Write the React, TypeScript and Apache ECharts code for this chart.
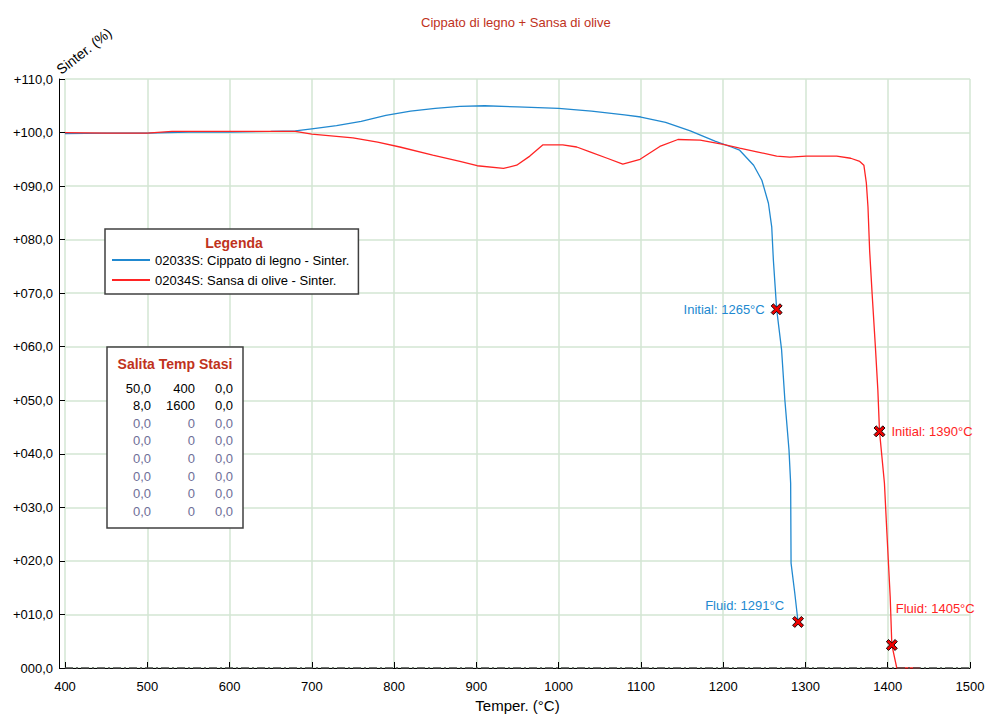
import { useEffect, useRef } from 'react';
import * as echarts from 'echarts';

// ---- data ----
const chartTitle = 'Cippato di legno + Sansa di olive';
const xAxisName = 'Temper. (°C)';
const yAxisName = 'Sinter. (%)';
const legendTitle = 'Legenda';
const seriesNames = ['02033S: Cippato di legno - Sinter.', '02034S: Sansa di olive - Sinter.'];

const cippatoTemp = [400, 450, 500, 550, 600, 650, 680, 700, 730, 760, 790, 820, 850, 880, 910, 950, 1000, 1040, 1080, 1100, 1130, 1160, 1190, 1210, 1220, 1237, 1247, 1255, 1259, 1261, 1265, 1271, 1275, 1280, 1282, 1282.5, 1287, 1291];
const cippatoSinter = [99.8, 99.9, 99.9, 100.1, 100.1, 100.2, 100.3, 100.7, 101.3, 102.1, 103.2, 104.0, 104.5, 104.9, 105.0, 104.8, 104.5, 104.0, 103.3, 102.9, 101.9, 100.3, 98.4, 97.3, 96.7, 93.9, 91.1, 86.8, 82.4, 76.2, 67.0, 59.4, 50.0, 40.7, 34.5, 19.6, 14.0, 8.6];

const sansaTemp = [400, 450, 500, 530, 600, 680, 700, 750, 780, 807, 847, 880, 901, 933, 949, 965, 981, 1005, 1022, 1038, 1059, 1078, 1099, 1123, 1145, 1172, 1200, 1220, 1241, 1265, 1281, 1301, 1338, 1355, 1366, 1371, 1374, 1376, 1378, 1381, 1385, 1388, 1390, 1396, 1399, 1403, 1405, 1411, 1439];
const sansaSinter = [100.0, 99.9, 99.9, 100.2, 100.2, 100.2, 99.7, 99.0, 98.2, 97.3, 95.8, 94.6, 93.8, 93.3, 93.9, 95.6, 97.7, 97.7, 97.3, 96.4, 95.2, 94.1, 95.0, 97.4, 98.7, 98.6, 97.8, 97.1, 96.4, 95.6, 95.4, 95.6, 95.6, 95.2, 94.6, 93.9, 90.6, 86.1, 78.0, 70.0, 60.0, 51.9, 44.2, 34.5, 25.2, 13.3, 4.3, 0.0, 0.0];

const pointKinds = ['Initial', 'Fluid'];
const cippatoPointTemp = [1265, 1291];
const cippatoPointSinter = [67.0, 8.6];
const sansaPointTemp = [1390, 1405];
const sansaPointSinter = [44.2, 4.3];

const tableHeader = 'Salita Temp Stasi';
const tableSalita = ['50,0', '8,0', '0,0', '0,0', '0,0', '0,0', '0,0', '0,0'];
const tableTemp = ['400', '1600', '0', '0', '0', '0', '0', '0'];
const tableStasi = ['0,0', '0,0', '0,0', '0,0', '0,0', '0,0', '0,0', '0,0'];
const tableActiveRows = 2;

// ---- styling ----
const FONT = 'Arial, "Liberation Sans", sans-serif';
const BLUE = '#2189d0';
const RED = '#ff2424';
const TITLE_RED = '#c0321c';
const GRID_GREEN = '#d3e6d3';
const INACTIVE = '#6e6e98';
const CROSS = 'path://M0,2 L2,0 L5,3 L8,0 L10,2 L7,5 L10,8 L8,10 L5,7 L2,10 L0,8 L3,5 Z';

const zip = (xs: number[], ys: number[]) => xs.map((x, i) => [x, ys[i]]);

const yLabel = (v: number) => (v === 0 ? '000,0' : '+' + String(v).padStart(3, '0') + ',0');

type Placement = { position: string; offset: number[] };

function pointSeries(temps: number[], values: number[], color: string, placements: Placement[]) {
  return {
    type: 'scatter',
    symbol: CROSS,
    symbolSize: 11,
    z: 5,
    itemStyle: { color: '#ee0000', borderColor: '#000', borderWidth: 0.9, opacity: 1 },
    emphasis: { disabled: true },
    data: temps.map((t, i) => ({
      value: [t, values[i]],
      label: {
        show: true,
        formatter: `${pointKinds[i]}: ${t}°C`,
        position: placements[i].position,
        offset: placements[i].offset,
        distance: 5,
        color,
        opacity: 1,
        fontSize: 13,
        fontFamily: FONT,
      },
    })),
  };
}

function tableGraphics() {
  const left = 107;
  const top = 347;
  const rowTop = 388;
  const rowStep = 17.6;
  const cols = [151, 195, 233];
  const items: any[] = [
    {
      type: 'rect',
      z: 100,
      shape: { x: left, y: top, width: 136, height: 181 },
      style: { fill: '#fff', stroke: '#404040', lineWidth: 1.5 },
    },
    {
      type: 'text',
      z: 101,
      x: 175,
      y: 364,
      style: { text: tableHeader, fill: TITLE_RED, fontSize: 14, fontWeight: 'bold', fontFamily: FONT, align: 'center', verticalAlign: 'middle' },
    },
  ];
  const columns = [tableSalita, tableTemp, tableStasi];
  columns.forEach((col, c) => {
    col.forEach((txt, r) => {
      items.push({
        type: 'text',
        z: 101,
        x: cols[c],
        y: rowTop + r * rowStep,
        style: {
          text: txt,
          fill: r < tableActiveRows ? '#000' : INACTIVE,
          fontSize: 13,
          fontFamily: FONT,
          align: 'right',
          verticalAlign: 'middle',
        },
      });
    });
  });
  return items;
}

export default function App() {
  const ref = useRef<HTMLDivElement>(null);

  useEffect(() => {
    if (!ref.current) return;
    const chart = echarts.init(ref.current, undefined, { renderer: 'svg' });
    chart.setOption({
      animation: false,
      backgroundColor: '#fff',
      textStyle: { fontFamily: FONT },
      title: {
        text: chartTitle,
        left: 416,
        top: 11,
        textStyle: { color: TITLE_RED, fontSize: 13, fontWeight: 'normal', fontFamily: FONT },
      },
      grid: { left: 65, right: 18, top: 79, bottom: 50 },
      legend: {
        data: seriesNames,
        orient: 'vertical',
        left: 105,
        top: 229,
        padding: [24, 9, 7, 7],
        itemGap: 6,
        icon: 'rect',
        itemWidth: 38,
        itemHeight: 2,
        backgroundColor: '#fff',
        borderColor: '#404040',
        borderWidth: 1.5,
        borderRadius: 0,
        textStyle: { color: '#000', fontSize: 13, fontFamily: FONT, lineHeight: 14 },
      },
      xAxis: {
        type: 'value',
        min: 400,
        max: 1500,
        interval: 100,
        offset: 6,
        name: xAxisName,
        nameLocation: 'middle',
        nameGap: 24,
        nameTextStyle: { color: '#000', fontSize: 15, fontFamily: FONT },
        axisLine: { show: true, lineStyle: { color: '#000', width: 1 } },
        axisTick: { show: true, inside: true, length: 6, lineStyle: { color: '#000' } },
        axisLabel: { color: '#000', fontSize: 13, fontFamily: FONT, margin: 6, formatter: (v: number) => String(v) },
        splitLine: { show: true, lineStyle: { color: GRID_GREEN, width: 1.5 } },
      },
      yAxis: {
        type: 'value',
        min: 0,
        max: 110,
        interval: 10,
        offset: 6,
        axisLine: { show: true, lineStyle: { color: '#000', width: 1 } },
        axisTick: { show: true, inside: true, length: 6, lineStyle: { color: '#000' } },
        axisLabel: { color: '#000', fontSize: 13, fontFamily: FONT, margin: 6, formatter: yLabel },
        splitLine: { show: true, lineStyle: { color: GRID_GREEN, width: 1.5 } },
      },
      series: [
        {
          name: seriesNames[0],
          type: 'line',
          data: zip(cippatoTemp, cippatoSinter),
          symbol: 'none',
          color: BLUE,
          lineStyle: { color: BLUE, width: 1.3 },
          z: 3,
          markLine: {
            silent: true,
            symbol: 'none',
            label: { show: false },
            lineStyle: { color: '#4a4a4a', width: 1.5, type: [8, 3, 2, 3] },
            data: [{ yAxis: 0 }],
          },
        },
        {
          name: seriesNames[1],
          type: 'line',
          data: zip(sansaTemp, sansaSinter),
          symbol: 'none',
          color: RED,
          lineStyle: { color: RED, width: 1.3 },
          z: 3,
        },
        pointSeries(cippatoPointTemp, cippatoPointSinter, BLUE, [
          { position: 'left', offset: [-1, 0] },
          { position: 'left', offset: [-3, -16] },
        ]),
        pointSeries(sansaPointTemp, sansaPointSinter, RED, [
          { position: 'right', offset: [1, 0] },
          { position: 'right', offset: [-7, -36] },
        ]),
      ],
      graphic: [
        {
          type: 'text',
          x: 84,
          y: 51,
          rotation: (38 * Math.PI) / 180,
          style: { text: yAxisName, fill: '#000', fontSize: 14, fontFamily: FONT, align: 'center', verticalAlign: 'middle' },
        },
        {
          type: 'text',
          x: 234,
          y: 243,
          z: 100,
          style: { text: legendTitle, fill: TITLE_RED, fontSize: 14, fontWeight: 'bold', fontFamily: FONT, align: 'center', verticalAlign: 'middle' },
        },
        ...tableGraphics(),
      ],
    });
    return () => chart.dispose();
  }, []);

  return <div ref={ref} style={{ width: 988, height: 718, position: 'absolute', left: 0, top: 0 }} />;
}
